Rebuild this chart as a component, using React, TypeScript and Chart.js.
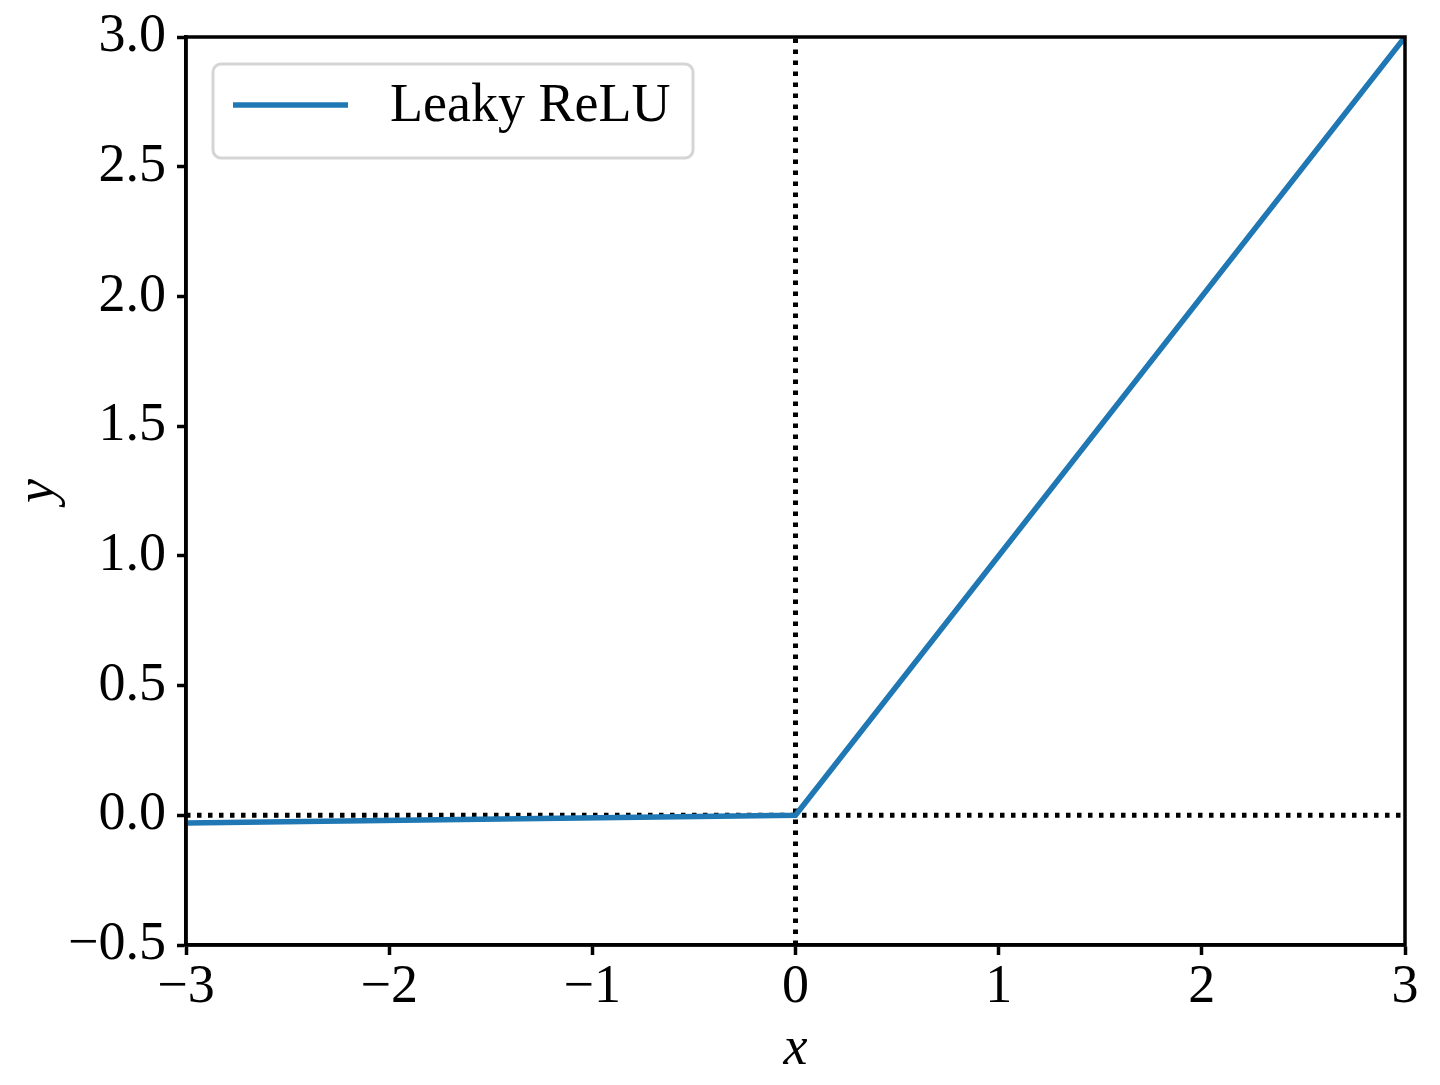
import React, { useEffect, useRef } from "react";
import { Chart, registerables } from "chart.js";

Chart.register(...registerables);

const seriesLabel = "Leaky ReLU";
const xValues = [-3, 0, 3];
const yValues = [-0.03, 0, 3];
const hLineX = [-3, 3];
const hLineY = [0, 0];
const vLineX = [0, 0];
const vLineY = [-0.5, 3];
const xTicks = [-3, -2, -1, 0, 1, 2, 3];
const yTicks = [-0.5, 0, 0.5, 1, 1.5, 2, 2.5, 3];

const FONT = "'Liberation Serif', 'DejaVu Serif', serif";
const BLUE = "#1f77b4";

const fmt = (v: number, dec: number) =>
  (v < 0 ? "\u2212" : "") + Math.abs(v).toFixed(dec);

const frame = {
  id: "frame",
  afterDatasetsDraw(chart: any) {
    const { ctx, chartArea: a } = chart;
    ctx.save();
    ctx.strokeStyle = "#000";
    ctx.lineWidth = 3.5;
    ctx.strokeRect(a.left, a.top, a.right - a.left, a.bottom - a.top);
    ctx.restore();
  },
};

const legendBox = {
  id: "legendBox",
  afterDraw(chart: any) {
    const { ctx, chartArea: a } = chart;
    const ds = chart.data.datasets[0];
    const x = a.left + 27;
    const y = a.top + 27;
    const w = 480;
    const h = 94;
    ctx.save();
    ctx.fillStyle = "rgba(255,255,255,0.8)";
    ctx.strokeStyle = "#d5d5d5";
    ctx.lineWidth = 3;
    ctx.beginPath();
    (ctx as any).roundRect(x, y, w, h, 8);
    ctx.fill();
    ctx.stroke();
    const cy = y + h / 2 - 6;
    ctx.strokeStyle = ds.borderColor;
    ctx.lineWidth = ds.borderWidth;
    ctx.beginPath();
    ctx.moveTo(x + 20, cy);
    ctx.lineTo(x + 135, cy);
    ctx.stroke();
    ctx.fillStyle = "#000";
    ctx.font = `54px ${FONT}`;
    ctx.textBaseline = "middle";
    ctx.textAlign = "left";
    ctx.fillText(ds.label, x + 177, cy + 2);
    ctx.restore();
  },
};

export default function App() {
  const ref = useRef<HTMLCanvasElement>(null);
  useEffect(() => {
    if (!ref.current) return;
    const toPts = (xs: number[], ys: number[]) => xs.map((x, i) => ({ x, y: ys[i] }));
    const chart = new Chart(ref.current, {
      type: "line",
      data: {
        datasets: [
          {
            label: seriesLabel,
            data: toPts(xValues, yValues),
            borderColor: BLUE,
            borderWidth: 5.5,
            pointRadius: 0,
            tension: 0,
          },
          {
            label: "h",
            data: toPts(hLineX, hLineY),
            borderColor: "#000",
            borderWidth: 5,
            borderDash: [4.5, 6.5],
            pointRadius: 0,
          },
          {
            label: "v",
            data: toPts(vLineX, vLineY),
            borderColor: "#000",
            borderWidth: 5,
            borderDash: [4.5, 6.5],
            pointRadius: 0,
          },
        ],
      },
      options: {
        animation: false,
        responsive: true,
        maintainAspectRatio: false,
        layout: { padding: { top: 37, right: 35, left: 0, bottom: 0 } },
        plugins: { legend: { display: false }, tooltip: { enabled: false } },
        scales: {
          x: {
            type: "linear",
            min: -3,
            max: 3,
            afterFit: (s: any) => {
              s.height = 140;
            },
            afterBuildTicks: (s: any) => {
              s.ticks = xTicks.map((v) => ({ value: v }));
            },
            ticks: {
              color: "#000",
              font: { family: FONT, size: 54 },
              padding: 0,
              maxRotation: 0,
              callback: (v: any) => fmt(Number(v), 0),
            },
            grid: {
              drawOnChartArea: false,
              drawTicks: true,
              tickLength: 10,
              tickWidth: 3.5,
              tickColor: "#000",
            },
            border: { display: true, color: "#000", width: 3.5 },
            title: {
              display: true,
              text: "x",
              color: "#000",
              font: { family: FONT, size: 54, style: "italic" },
              padding: { top: 0, bottom: 3 },
            },
          },
          y: {
            type: "linear",
            min: -0.5,
            max: 3,
            afterFit: (s: any) => {
              s.width = 186;
              s.paddingTop = 0;
              s.paddingBottom = 0;
            },
            afterBuildTicks: (s: any) => {
              s.ticks = yTicks.map((v) => ({ value: v }));
            },
            ticks: {
              color: "#000",
              font: { family: FONT, size: 54 },
              padding: 11,
              callback: (v: any) => fmt(Number(v), 1),
            },
            grid: {
              drawOnChartArea: false,
              drawTicks: true,
              tickLength: 9,
              tickWidth: 3.5,
              tickColor: "#000",
            },
            border: { display: true, color: "#000", width: 3.5 },
            title: {
              display: true,
              text: "y",
              color: "#000",
              font: { family: FONT, size: 54, style: "italic" },
              padding: { top: 6, bottom: 0 },
            },
          },
        },
      },
      plugins: [frame, legendBox],
    });
    return () => chart.destroy();
  }, []);
  return (
    <div style={{ position: "fixed", left: 0, top: 0, width: 1440, height: 1085, background: "#fff" }}>
      <canvas ref={ref} />
    </div>
  );
}
